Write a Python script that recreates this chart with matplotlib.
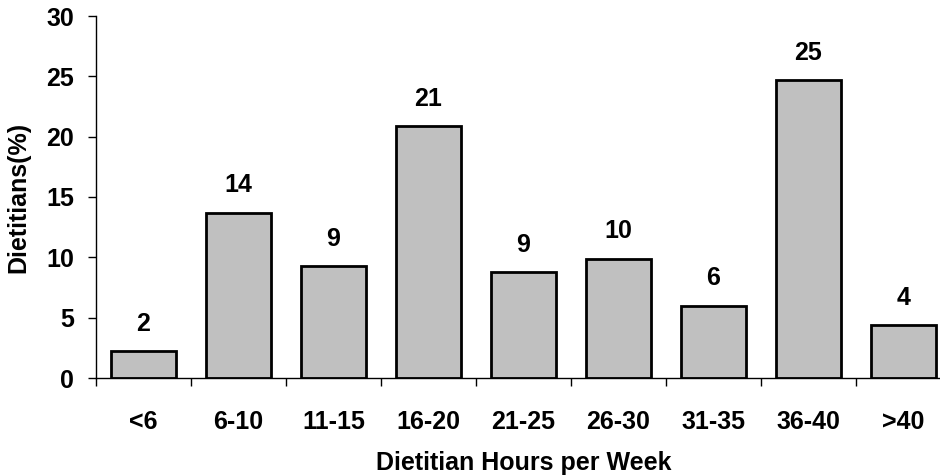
import matplotlib
matplotlib.use('Agg')
import numpy as np
from matplotlib import pyplot as plt

categories = ['<6', '6-10', '11-15', '16-20', '21-25', '26-30', '31-35', '36-40', '>40']
values = [2.2, 13.7, 9.3, 20.9, 8.8, 9.9, 6.0, 24.7, 4.4]
labels = ['2', '14', '9', '21', '9', '10', '6', '25', '4']

plt.rcParams['font.family'] = ['Liberation Sans', 'DejaVu Sans']
plt.rcParams['font.weight'] = 'bold'

fig = plt.figure(figsize=(9.4, 4.75), dpi=100)
ax = fig.add_axes([96 / 940, 1 - 378 / 475, 855 / 940, 362 / 475])

x = np.arange(len(categories))
bars = ax.bar(x, values, width=0.68, color='#c0c0c0', edgecolor='black', linewidth=2)

# value labels above each bar
for b, lab in zip(bars, labels):
    ax.annotate(lab, (b.get_x() + b.get_width() / 2, b.get_height()),
                xytext=(0, 11), textcoords='offset points',
                ha='center', va='bottom', fontsize=18, fontweight='bold')

ax.set_xlim(-0.5, 8.5)
ax.set_ylim(0, 30)
ax.set_yticks(range(0, 31, 5))
ax.set_xticks(x)
ax.set_xticklabels(categories)
ax.set_xticks(np.arange(-0.5, 9, 1), minor=True)
ax.tick_params(axis='x', which='major', length=0, pad=23, labelsize=18)
ax.tick_params(axis='x', which='minor', length=6, width=1, direction='out')
ax.tick_params(axis='y', length=6, width=1, direction='out', labelsize=18, pad=10)

for s in ['top', 'right']:
    ax.spines[s].set_visible(False)
for s in ['left', 'bottom']:
    ax.spines[s].set_linewidth(1)

ax.set_xlabel('Dietitian Hours per Week', fontsize=18, fontweight='bold', labelpad=12)
ax.set_ylabel('Dietitians(%)', fontsize=18, fontweight='bold', labelpad=11)

plt.savefig('out.png', dpi=100)
plt.close()
